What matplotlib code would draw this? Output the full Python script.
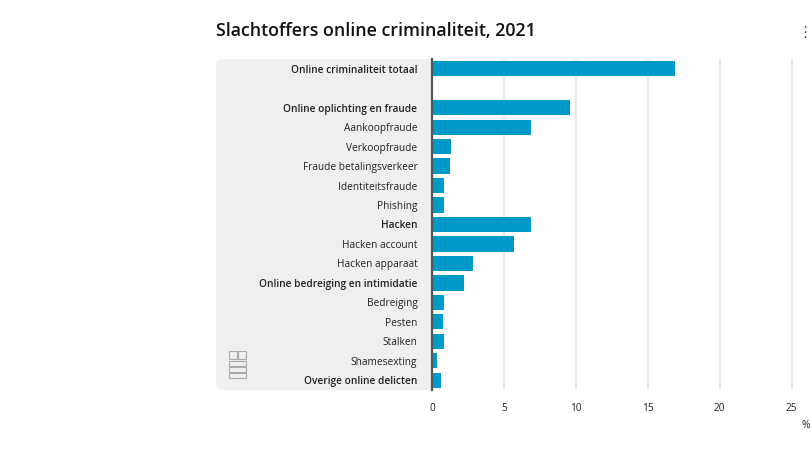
import matplotlib.pyplot as plt
from matplotlib.patches import FancyBboxPatch, Rectangle

plt.rcParams['font.family'] = ['Open Sans', 'DejaVu Sans']

# data (percentages)
categories = ['Online criminaliteit totaal', '',
              'Online oplichting en fraude', 'Aankoopfraude', 'Verkoopfraude',
              'Fraude betalingsverkeer', 'Identiteitsfraude', 'Phishing',
              'Hacken', 'Hacken account', 'Hacken apparaat',
              'Online bedreiging en intimidatie', 'Bedreiging', 'Pesten',
              'Stalken', 'Shamesexting', 'Overige online delicten']
values = [16.9, None,
          9.6, 6.9, 1.3,
          1.25, 0.8, 0.8,
          6.9, 5.7, 2.85,
          2.25, 0.85, 0.75,
          0.8, 0.35, 0.6]
bold_labels = ['Online criminaliteit totaal', 'Online oplichting en fraude',
               'Hacken', 'Online bedreiging en intimidatie',
               'Overige online delicten']
xticks = [0, 5, 10, 15, 20, 25]

W, H = 811, 458
fig = plt.figure(figsize=(W / 100, H / 100), dpi=100)
fig.patch.set_facecolor('white')

# axes: x 432..796 px, y 59..390 px
ax = fig.add_axes([432 / W, 1 - 390 / H, (796 - 432) / W, (390 - 59) / H])
ax.set_facecolor('none')

# grey label panel with rounded corners
panel = FancyBboxPatch((216 / W, 1 - 390 / H), (432 - 216) / W, (390 - 59) / H,
                       boxstyle='round,pad=0,rounding_size=0.012',
                       transform=fig.transFigure, facecolor='#efefef',
                       edgecolor='none', zorder=-5)
fig.patches.append(panel)
# square off right side of the panel
fig.patches.append(Rectangle((420 / W, 1 - 390 / H), 12 / W, (390 - 59) / H,
                             transform=fig.transFigure, facecolor='#efefef',
                             edgecolor='none', zorder=-4))

ypos = list(range(len(categories)))
for y, v in zip(ypos, values):
    if v is None:
        continue
    ax.barh(y, v, height=0.78, color='#009ac8', zorder=3)

ax.set_xlim(0, 25.3)
ax.set_ylim(len(categories) - 0.5, -0.5)

ax.set_xticks(xticks)
ax.set_xticklabels([str(t) for t in xticks])
ax.grid(axis='x', color='#e1e1e1', linewidth=1.2, zorder=0)
ax.set_axisbelow(True)

ax.set_yticks(ypos)
ax.set_yticklabels(categories)
for lab in ax.get_yticklabels():
    if lab.get_text() in bold_labels:
        lab.set_fontweight(600)

ax.tick_params(axis='y', length=0, pad=10.5, labelsize=7.3, labelcolor='#222222')
ax.tick_params(axis='x', length=0, pad=9.5, labelsize=7.3, labelcolor='#222222')

for s in ['top', 'right', 'bottom']:
    ax.spines[s].set_visible(False)
ax.spines['left'].set_color('#555555')
ax.spines['left'].set_linewidth(1.6)
ax.spines['left'].set_zorder(4)

fig.text(216 / W, 1 - 31 / H, 'Slachtoffers online criminaliteit, 2021',
         fontsize=12.8, fontweight=600, color='#111111', va='center', ha='left')
fig.text(806 / W, 1 - 426 / H, '%', fontsize=7.3, color='#222222',
         va='center', ha='center')
fig.text(805 / W, 1 - 33 / H, '\u22ee', fontsize=11, color='#555555',
         va='center', ha='center')

# simple cbs logo outline
logo_color = '#aaaaaa'
for (lx, ly, lw, lh) in [(229, 351, 8, 8), (238, 351, 8, 8),
                         (229, 361, 17, 5), (229, 367, 17, 5), (229, 373, 17, 5)]:
    fig.patches.append(Rectangle((lx / W, 1 - (ly + lh) / H), lw / W, lh / H,
                                 transform=fig.transFigure, facecolor='none',
                                 edgecolor=logo_color, linewidth=0.8))

fig.savefig('out.png', dpi=100)
